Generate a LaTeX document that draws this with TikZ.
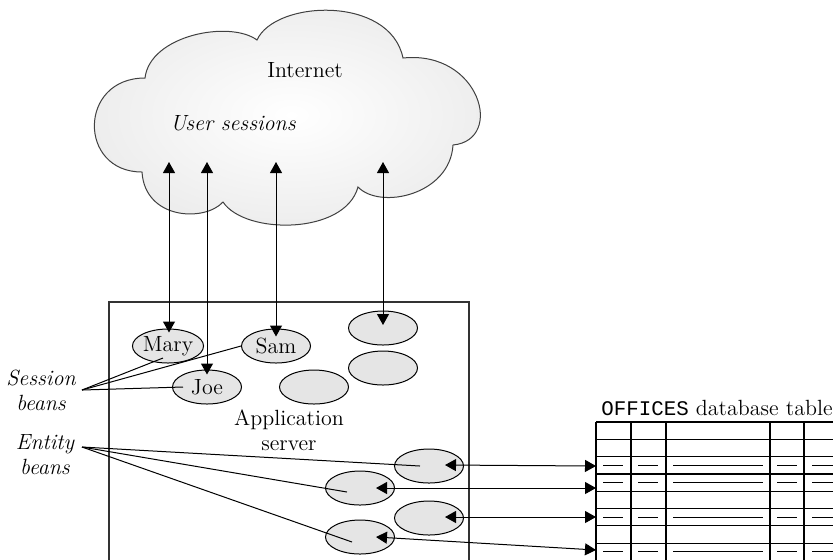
\documentclass[tikz,border=0pt]{standalone}
\usepackage{fontspec}
\setmonofont{Liberation Mono}
\usepackage{tikz}
\usetikzlibrary{shapes.geometric,arrows.meta,calc}
\newcommand{\diagfont}{\fontsize{11}{12.5}\selectfont}

\begin{document}
\begin{tikzpicture}[
    x=0.5pt, y=-0.5pt,
    every node/.append style={font=\diagfont},
    bean/.style={draw, ellipse, fill=gray!20, minimum width=34.5pt,
        minimum height=17pt, inner sep=0pt, line width=0.5pt},
    label/.style={font=\diagfont\itshape, align=center},
    arrow/.style={{Triangle[length=5.5pt,width=6pt]}-{Triangle[length=5.5pt,width=6pt]},
        line width=0.5pt},
    pointer/.style={line width=0.5pt},
    tabline/.style={line width=0.6pt},
]

\clip (0,0) rectangle (833,559);

\shade[draw=black!75, line width=0.5pt, inner color=white, outer color=gray!15]
    (145,78) .. controls (150,35) and (230,20) .. (257,40)
    .. controls (275,0) and (390,-5) .. (403,58)
    .. controls (480,50) and (505,140) .. (453,145)
    .. controls (450,195) and (380,210) .. (358,187)
    .. controls (345,235) and (245,235) .. (223,202)
    .. controls (205,222) and (145,220) .. (142,172)
    .. controls (78,172) and (78,78) .. cycle;

\node (inet) at (305,70) {Internet};
\node[label] (usess) at (233,123) {User sessions};

\coordinate (c1) at (169,162);
\coordinate (c2) at (207,162);
\coordinate (c3) at (276,162);
\coordinate (c4) at (383,162);

\draw[line width=0.6pt, black!80] (109,570) |- (469,302) -- (469,570);
\node[align=center] (appsrv) at (289,430) {Application\\server};

\node[bean] (mary) at (168,346) {Mary};
\node[bean] (sam) at (276,346) {Sam};
\node[bean] (joe) at (207,387) {Joe};
\node[bean] (s4) at (383,328) {};
\node[bean] (s5) at (383,368) {};
\node[bean] (s6) at (314,387) {};

\node[bean] (e1) at (429,466) {};
\node[bean] (e2) at (360,488) {};
\node[bean] (e3) at (429,518) {};
\node[bean] (e4) at (360,537) {};

\draw[arrow] (c1) -- ($(c1 |- mary.north)+(0,4)$);
\draw[arrow] (c2) -- ($(c2 |- joe.north)+(0,5)$);
\draw[arrow] (c3) -- ($(c3 |- sam.north)+(0,8)$);
\draw[arrow] (c4) -- ($(s4.center)+(0,-3)$);

\node[label] (sesslbl) at (41,390) {Session\\beans};
\node[label] (entlbl) at (45,455) {Entity\\beans};
\coordinate (shub) at (82,390);
\coordinate (ehub) at (82,447);

\draw[pointer] (shub) -- ($(mary.center)+(-5,12)$);
\draw[pointer] (shub) -- (sam.west);
\draw[pointer] (shub) -- ($(joe.center)+(-24,0)$);
\draw[pointer] (ehub) -- ($(e1.center)+(-9,0)$);
\draw[pointer] (ehub) -- ($(e2.center)+(-13,4)$);
\draw[pointer] (ehub) -- ($(e4.center)+(-8,5)$);

\node (tabtitle) at (717,408) {{\fontsize{10.4}{12}\selectfont\texttt{OFFICES}} database table};
\foreach \k in {0,...,8}
    \draw[tabline] (596,{422+17.3*\k}) -- (840,{422+17.3*\k});
\foreach \cx in {596,631,666,770,804}
    \draw[tabline] (\cx,422) -- (\cx,570);
\foreach \k in {2,3,5,7} {
    \foreach \a/\b in {603/623,638/658,673/763,777/797,812/840}
        \draw[tabline] (\a,{430.65+17.3*\k}) -- (\b,{430.65+17.3*\k});
}

\coordinate (r1) at (596,466);
\coordinate (r2) at (596,488);
\coordinate (r3) at (596,517);
\coordinate (r4) at (596,550);

\draw[arrow] ($(e1.center)+(16,-1)$) -- (r1);
\draw[arrow] ($(e2.center)+(16,0)$) -- (r2);
\draw[arrow] ($(e3.center)+(16,-1)$) -- (r3);
\draw[arrow] ($(e4.center)+(16,0)$) -- (r4);

\end{tikzpicture}
\end{document}
